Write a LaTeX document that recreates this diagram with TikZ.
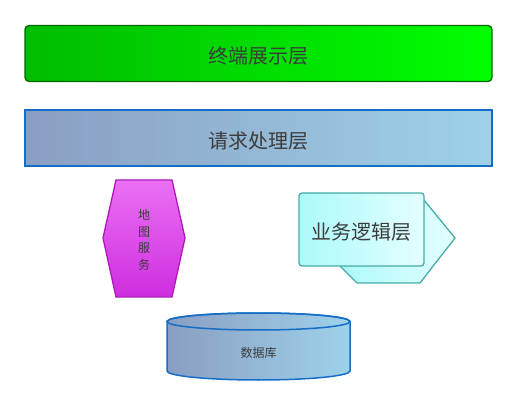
\documentclass[tikz,border=0pt]{standalone}
\usepackage{fontspec}
\newfontfamily\cjk{Noto Sans CJK SC}
\usetikzlibrary{positioning}

\definecolor{txtgray}{RGB}{60,60,60}
\definecolor{grnL}{RGB}{0,188,0}
\definecolor{grnR}{RGB}{0,255,0}
\definecolor{grnB}{RGB}{0,105,0}
\definecolor{bluL}{RGB}{138,158,194}
\definecolor{bluR}{RGB}{158,210,234}
\definecolor{bluB}{RGB}{20,110,200}
\definecolor{magT}{RGB}{234,112,244}
\definecolor{magB}{RGB}{206,46,222}
\definecolor{magD}{RGB}{176,24,190}
\definecolor{cyaL}{RGB}{172,250,250}
\definecolor{cyaR}{RGB}{228,255,255}
\definecolor{cyaB}{RGB}{70,172,168}

\tikzset{
  layer/.style={minimum width=467pt, minimum height=56pt, text height=20pt, text depth=0pt,
    font=\cjk\fontsize{20}{22}\selectfont\color{txtgray}},
  txt/.style={font=\cjk\fontsize{12}{16.5}\selectfont\color{txtgray}, align=center}
}

\begin{document}
\begin{tikzpicture}[x=1pt, y=-1pt, node distance=27pt]
    \useasboundingbox (0,0) rectangle (517,406);
    \node[layer, draw=grnB, line width=1.3pt, rounded corners=4pt, left color=grnL, right color=grnR] (term) at (258.5,53.5) {终端展示层};
    \node[layer, draw=bluB, line width=1.8pt, left color=bluL, right color=bluR, below=of term] (req) {请求处理层};

    % hexagon
    \draw[magD, line width=1.3pt, top color=magT, bottom color=magB] (116,180) -- (172,180) -- (185,238) -- (172,297) -- (116,297) -- (103,238) -- cycle;
    \node[txt] (map) at (144,240) {地\\图\\服\\务};

    % logic
    \draw[cyaB, line width=1.3pt, left color=cyaL, right color=cyaR] (340,200) -- (424,200) -- (455,238) -- (420,283) -- (357,283) -- (338,264) -- cycle;
    \node[layer, draw=cyaB, line width=1.3pt, rounded corners=3pt, minimum width=125pt, minimum height=73pt, left color=cyaL, right color=cyaR] (biz) at (361.5,229.5) {业务逻辑层};

    % database
    \draw[bluB, line width=1.5pt, left color=bluL, right color=bluR] (167,321.5) -- (167,371) arc[start angle=180, end angle=360, x radius=91.5pt, y radius=9pt] -- (350,321.5) arc[start angle=0, end angle=180, x radius=91.5pt, y radius=8.5pt] -- cycle;
    \draw[bluB, line width=1.5pt] (258.5,321.5) ellipse[x radius=91.5pt, y radius=8.5pt];
    \node[txt] (db) at (258.5,353) {数据库};
\end{tikzpicture}
\end{document}
